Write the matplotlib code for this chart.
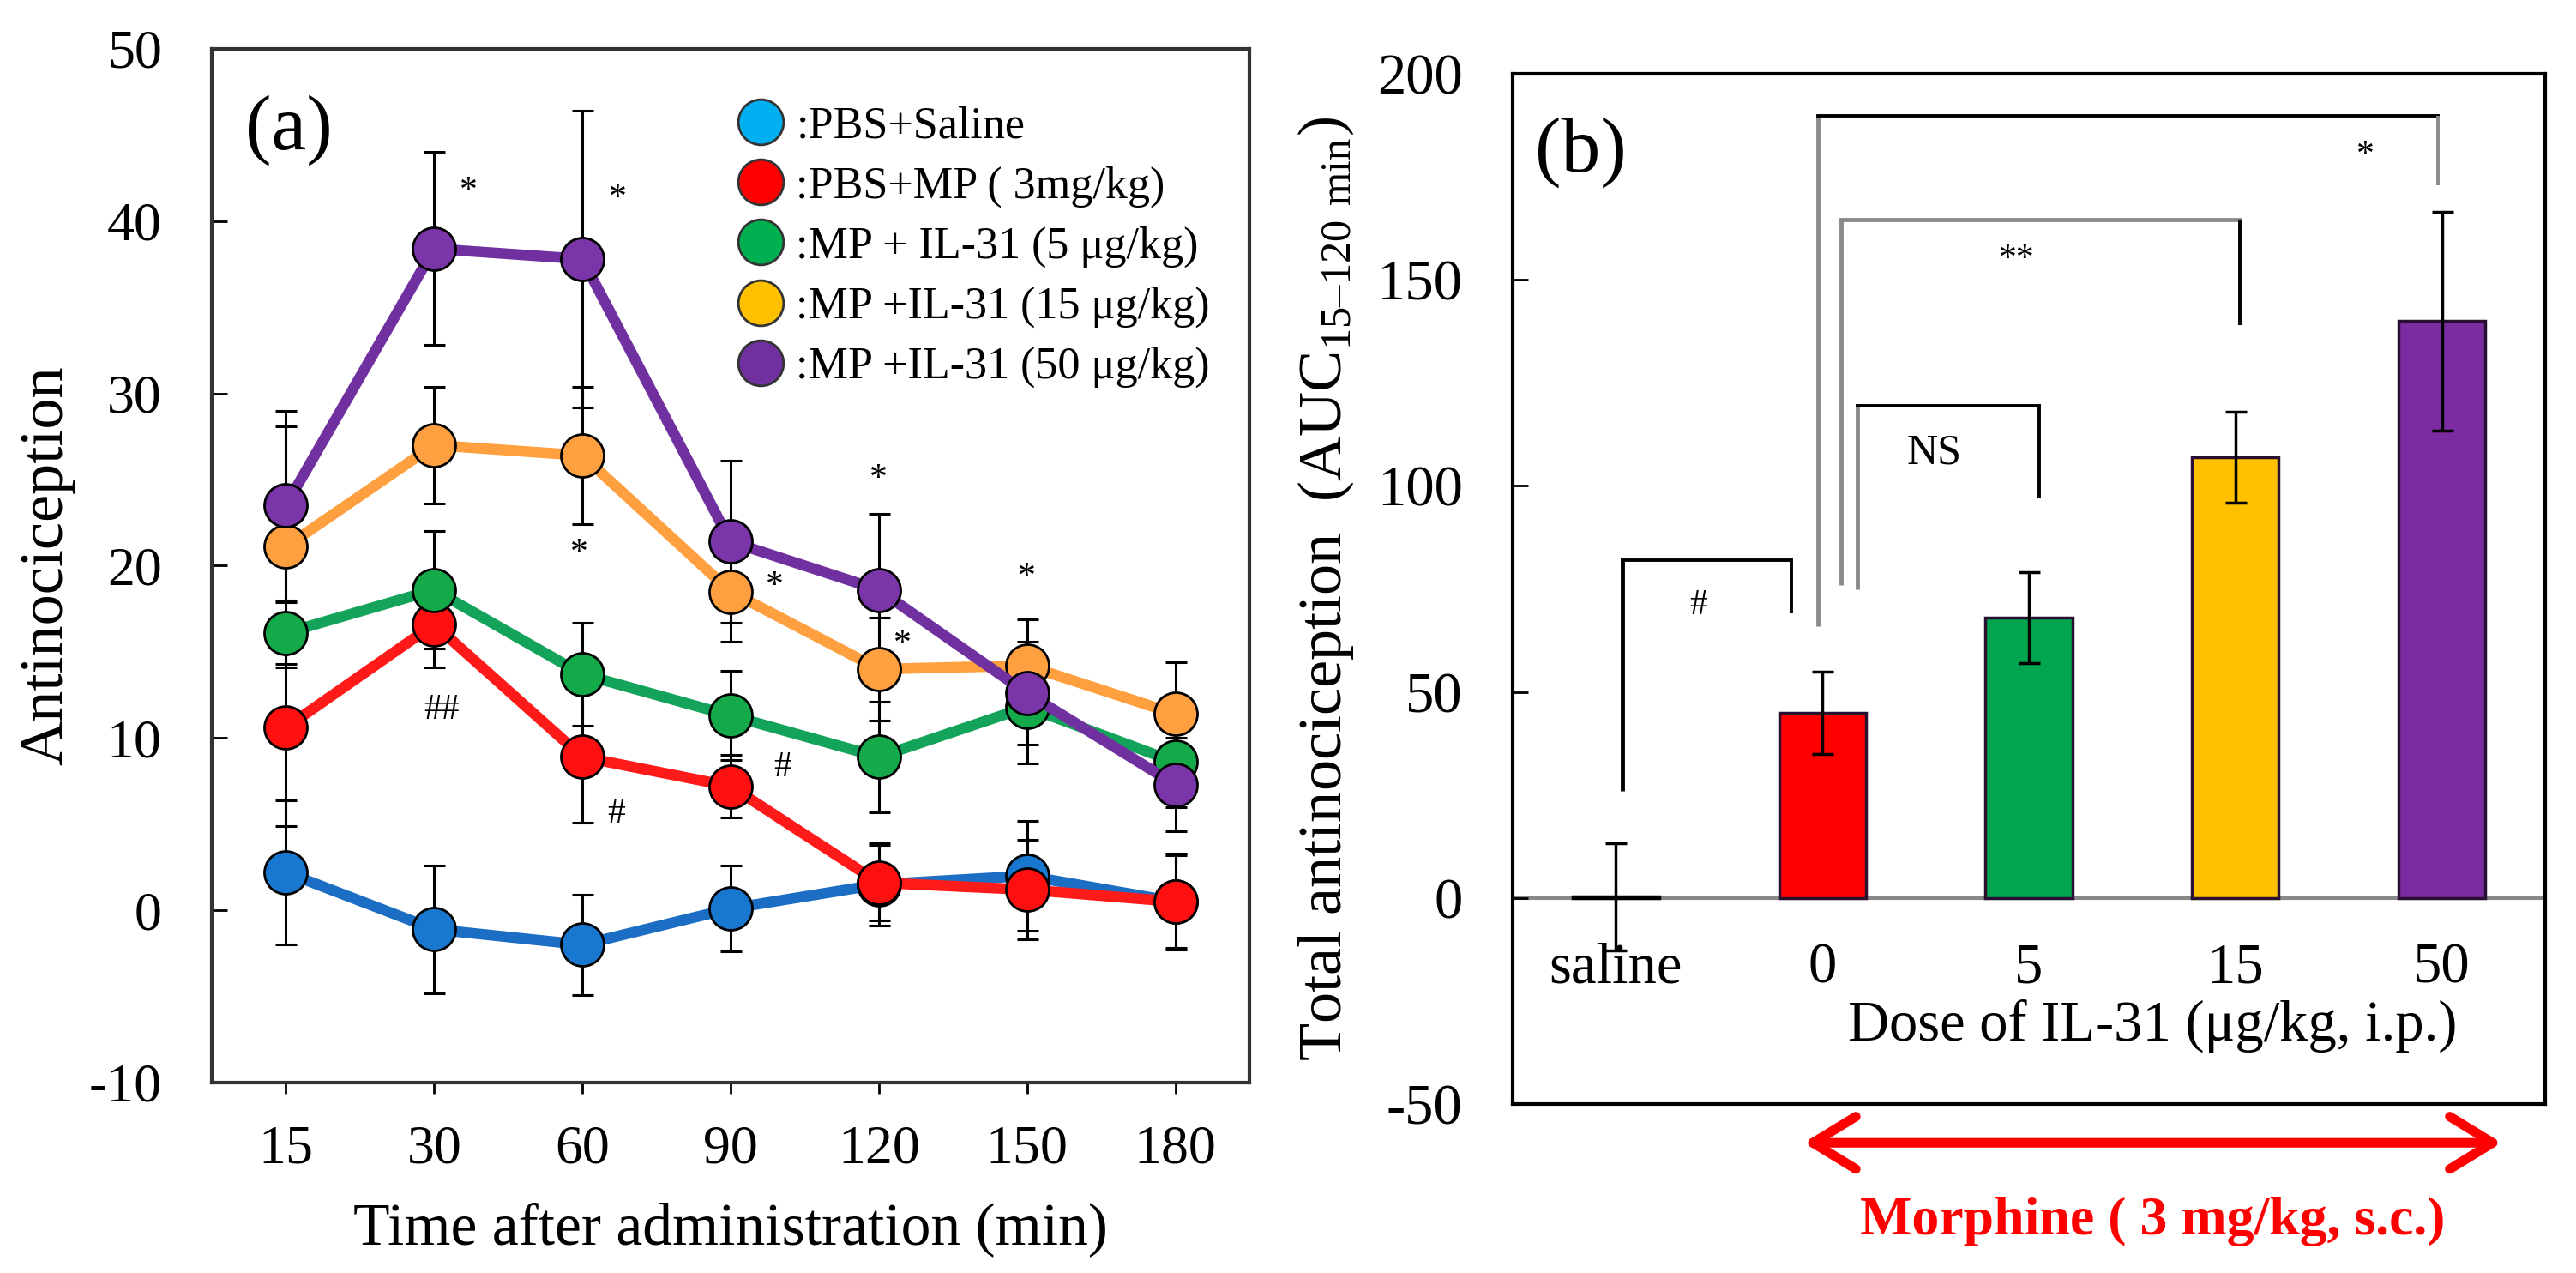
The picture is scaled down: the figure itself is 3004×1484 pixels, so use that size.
import matplotlib
matplotlib.use("Agg")
import matplotlib.pyplot as plt
from matplotlib.lines import Line2D

plt.rcParams["font.family"] = ["Liberation Serif", "DejaVu Serif"]
plt.rcParams["mathtext.fontset"] = "custom"
plt.rcParams["mathtext.rm"] = "Liberation Serif"
plt.rcParams["axes.unicode_minus"] = False

# ---- panel (a): time course ----
times = ["15", "30", "60", "90", "120", "150", "180"]
series_names = [":PBS+Saline", ":PBS+MP ( 3mg/kg)", ":MP + IL-31 (5 μg/kg)",
                ":MP +IL-31 (15 μg/kg)", ":MP +IL-31 (50 μg/kg)"]
saline = [2.2, -1.1, -2.0, 0.1, 1.5, 2.0, 0.5]
saline_err = [4.2, 3.7, 2.9, 2.5, 2.4, 3.2, 2.8]
mp = [10.6, 16.6, 8.9, 7.2, 1.6, 1.2, 0.5]
mp_err = [5.7, 2.5, 3.8, 1.8, 2.2, 2.9, 2.7]
il5 = [16.1, 18.6, 13.7, 11.3, 8.9, 11.8, 8.6]
il5_err = [1.8, 3.4, 3.0, 2.6, 3.2, 3.3, 2.6]
il15 = [21.1, 27.0, 26.4, 18.5, 14.0, 14.2, 11.4]
il15_err = [7.0, 3.4, 4.0, 2.9, 3.0, 2.7, 3.0]
il50 = [23.5, 38.4, 37.8, 21.4, 18.6, 12.6, 7.3]
il50_err = [5.5, 5.6, 8.6, 4.7, 4.4, 3.0, 2.7]

# significance marks: (time index, y, label)
marks_a = [(1.23, 41.7, "*"), (2.24, 41.3, "*"), (1.98, 20.7, "*"), (3.3, 18.8, "*"),
           (4.0, 25.0, "*"), (4.16, 15.4, "*"), (5.0, 19.3, "*"),
           (1.05, 11.6, "##"), (2.23, 5.6, "#"), (3.35, 8.3, "#")]

# ---- panel (b): AUC ----
doses = ["saline", "0", "5", "15", "50"]
auc = [0.3, 45.0, 68.0, 107.0, 140.0]
auc_err = [13.0, 10.0, 11.0, 11.0, 26.5]

# brackets: x left, x right, left foot, top, right foot, label, label x, label y
brackets = [
    (0.03, 0.85, 26, 82, 69, "#", 0.40, 71),
    (1.17, 2.05, 75, 119.5, 97, "NS", 1.54, 108),
    (1.09, 3.02, 76, 164.6, 139, "**", 1.94, 155),
    (0.98, 3.98, 66, 189.8, 173, "*", 3.63, 180),
]

line_colors = ["#1c6ec4", "#ff1a1a", "#14a35a", "#ffa040", "#7030a0"]
face_colors = ["#1878d0", "#ff1010", "#14aa4a", "#ffa040", "#7a35a8"]
legend_colors = ["#00b0f0", "#ff0000", "#00b050", "#ffc000", "#7030a0"]
bar_colors = ["white", "#ff0000", "#00a550", "#ffc000", "#7b2ca0"]
bar_edges = ["black", "#2a1030", "#2a1030", "#2a1030", "#2a1030"]

fig = plt.figure(figsize=(30.04, 14.84), dpi=100)
ax = fig.add_axes([0.0822, 0.1496, 0.4028, 0.812])
bx = fig.add_axes([0.5872, 0.1327, 0.4008, 0.8093])

x = list(range(len(times)))
data = [(saline, saline_err), (mp, mp_err), (il5, il5_err), (il15, il15_err), (il50, il50_err)]
for i, (vals, errs) in enumerate(data):
    ax.errorbar(x, vals, yerr=errs, fmt="none", ecolor="black", elinewidth=2.2,
                capsize=9, capthick=2.2, zorder=2)
for i, (vals, errs) in enumerate(data):
    ax.plot(x, vals, color=line_colors[i], lw=9, marker="o", markersize=36,
            markerfacecolor=face_colors[i], markeredgecolor="black",
            markeredgewidth=2, zorder=3 + i)

for xi, yi, s in marks_a:
    ax.text(xi, yi, s, ha="center", va="center", fontsize=30)

ax.text(0.02, 45.3, "(a)", ha="center", va="center", fontsize=66)

handles = [Line2D([], [], ls="none", marker="o", markersize=38, markerfacecolor=c,
                  markeredgecolor="#333333", markeredgewidth=2) for c in legend_colors]
ax.legend(handles, series_names, loc="upper left", bbox_to_anchor=(0.49, 0.962),
          frameon=False, fontsize=37.5, handlelength=1.0, handletextpad=0.3,
          labelspacing=0.42, borderaxespad=0)

ax.set_xlim(-0.5, 6.5)
ax.set_ylim(-10, 50)
ax.set_xticks(x)
ax.set_xticklabels(times)
ax.set_yticks(range(-10, 51, 10))
ax.tick_params(axis="x", direction="out", length=9, width=2, pad=27, labelsize=46)
ax.tick_params(axis="y", direction="in", length=13, width=2, pad=42, labelsize=46)
ax.set_xlabel("Time after administration (min)", fontsize=50)
ax.set_ylabel("Antinociception", fontsize=52)
ax.xaxis.label.set_va("center")
ax.yaxis.label.set_va("center")
ax.xaxis.set_label_coords(0.5, -0.142)
ax.yaxis.set_label_coords(-0.159, 0.5)
for sp in ax.spines.values():
    sp.set_linewidth(3)
    sp.set_color("#333333")

# panel (b)
bx.axhline(0, color="#888888", lw=3, zorder=1)
bpos = list(range(len(doses)))
bx.bar(bpos, auc, width=0.42, color=bar_colors, edgecolor=bar_edges, linewidth=2.5,
       zorder=2)
bx.errorbar(bpos, auc, yerr=auc_err, fmt="none", ecolor="black", elinewidth=2.5,
            capsize=9, capthick=2.5, zorder=3)

for k, (xl, xr, yl, yt, yr, s, tx, ty) in enumerate(brackets):
    left_col = "black" if k == 0 else "#8a8a8a"
    top_col = "#8a8a8a" if k == 2 else "black"
    bx.plot([xl, xl], [yl, yt], color=left_col, lw=3.5, zorder=1,
            solid_capstyle="butt")
    bx.plot([xl, xr], [yt, yt], color=top_col, lw=3.5 if k == 2 else 2.8, zorder=1)
    bx.plot([xr, xr], [yt, yr], color="black" if k != 3 else "#8a8a8a", lw=2.8,
            zorder=1, solid_capstyle="butt")
    bx.text(tx, ty, s, ha="center", va="center",
            fontsize=36 if s == "NS" else 30)

for i, d in enumerate(doses):
    bx.text(i, -17, d, ha="center", va="center", fontsize=48)
bx.text(2.6, -31, "Dose of IL-31 (μg/kg, i.p.)", ha="center", va="center", fontsize=48)
bx.text(-0.17, 181, "(b)", ha="center", va="center", fontsize=66)

bx.annotate("", xy=(4.29, -59.4), xytext=(0.91, -59.4), annotation_clip=False,
            arrowprops=dict(arrowstyle="<->, head_length=0.9, head_width=0.55",
                            color="#ff0000", lw=8, mutation_scale=40,
                            shrinkA=0, shrinkB=0))
bx.text(2.6, -78.5, "Morphine ( 3 mg/kg, s.c.)", ha="center", va="center",
        fontsize=46, fontweight="bold", color="#ff0000", clip_on=False)

bx.set_xlim(-0.5, 4.5)
bx.set_ylim(-50, 200)
bx.set_xticks([])
bx.set_yticks(range(-50, 201, 50))
bx.tick_params(axis="y", direction="in", length=13, width=2, pad=42, labelsize=48)
bx.set_ylabel("Total antinociception  (AUC$_{\\rm 15\u2013120\\ min}$)", fontsize=52)
bx.yaxis.label.set_va("center")
bx.yaxis.set_label_coords(-0.181, 0.5)
for sp in bx.spines.values():
    sp.set_linewidth(3)
    sp.set_color("black")

fig.savefig("out.png", dpi=100)
